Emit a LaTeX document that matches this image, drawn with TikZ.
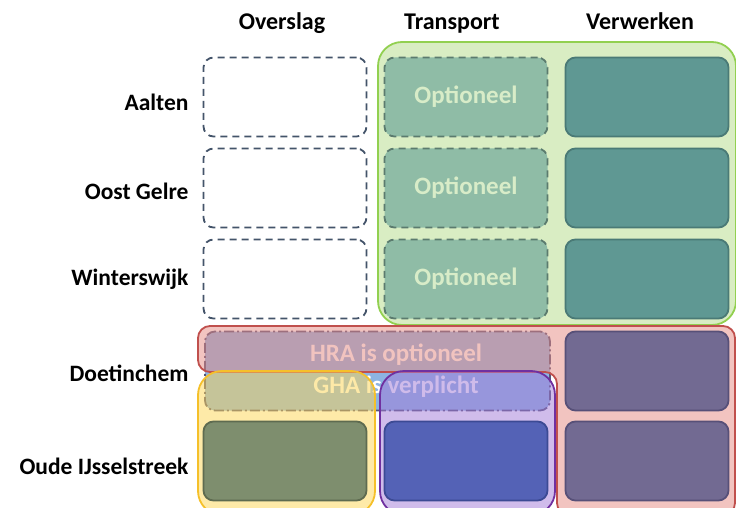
\documentclass[tikz,border=0pt]{standalone}
\usepackage{fontspec}
\setmainfont{Carlito}
\usepackage[]{xcolor}
\definecolor{dashblue}{HTML}{44546A}
\definecolor{optfill}{HTML}{8FBCA6}
\definecolor{optline}{HTML}{5B7B6E}
\definecolor{opttext}{HTML}{D8ECC8}
\definecolor{tealfill}{HTML}{5F9893}
\definecolor{tealline}{HTML}{4A7A76}
\definecolor{greenfill}{HTML}{D9EDC3}
\definecolor{greenline}{HTML}{92D050}
\definecolor{hrafill}{HTML}{8DB4E2}
\definecolor{hraline}{HTML}{55557A}
\definecolor{redfill}{HTML}{E58981}
\definecolor{redline}{HTML}{C0504D}
\definecolor{yelfill}{HTML}{FDD551}
\definecolor{yelline}{HTML}{F5C02A}
\definecolor{purfill}{HTML}{A179D7}
\definecolor{purline}{HTML}{7030A0}
\definecolor{olivefill}{HTML}{7E8E6E}
\definecolor{oliveline}{HTML}{5E6B50}
\definecolor{bluefill}{HTML}{5462B6}
\definecolor{blueline}{HTML}{3C4A94}
\definecolor{mauvefill}{HTML}{726A92}
\definecolor{mauveline}{HTML}{575078}

\begin{document}
\begin{tikzpicture}[
            x=1pt, y=-1pt,
            node distance=181pt,
            cell/.style={rectangle, rounded corners=10pt, minimum width=163pt, minimum height=79pt, line width=1.8pt},
            leeg/.style={cell, draw=dashblue, dash pattern=on 7pt off 5pt, fill=white},
            optie/.style={cell, draw=optline, dash pattern=on 7pt off 5pt, fill=optfill, text=opttext, font=\bfseries\fontsize{25}{30}\selectfont},
            verwerk/.style={cell, draw=tealline, fill=tealfill},
            kop/.style={font=\bfseries\fontsize{24}{28}\selectfont, anchor=base},
            rij/.style={font=\bfseries\fontsize{23.5}{28}\selectfont, anchor=east},
            groep/.style={rounded corners=24pt, line width=1.8pt}
        ]
            \useasboundingbox (0,0) rectangle (736,508);

            % kolommen
            \node[kop] (overslag) at (282,30) {Overslag};
            \node[kop] (transport) at (452,30) {Transport};
            \node[kop] (verwerken) at (640,30) {Verwerken};

            % gemeenten
            \node[rij] (aalten) at (192,102) {Aalten};
            \node[rij] (oostgelre) at (192,191) {Oost Gelre};
            \node[rij] (winterswijk) at (192,279) {Winterswijk};
            \node[rij] (doetinchem) at (192,373) {Doetinchem};
            \node[rij] (oude) at (192,466) {Oude IJsselstreek};

            % groen blok
            \fill[groep, fill=greenfill] (378,42) rectangle (736,325);

            \node[leeg] (a1) at (285,97) {};
            \node[optie, right of=a1] (a2) {Optioneel};
            \node[verwerk, right of=a2] (a3) {};
            \node[leeg] (b1) at (285,188) {};
            \node[optie, right of=b1] (b2) {Optioneel};
            \node[verwerk, right of=b2] (b3) {};
            \node[leeg] (c1) at (285,279) {};
            \node[optie, right of=c1] (c2) {Optioneel};
            \node[verwerk, right of=c2] (c3) {};

            \draw[groep, draw=greenline] (378,42) rectangle (736,325);

            % HRA / GHA
            \node[rectangle, rounded corners=10pt, minimum width=345pt, minimum height=79pt, line width=1.8pt,
                  draw=hraline, dash pattern=on 10pt off 3pt on 2pt off 3pt, fill=hrafill] (hra) at (377.5,371) {};
            \node[text=white, font=\bfseries\fontsize{25}{32}\selectfont, align=center] (hratxt) at (396,371) {HRA is optioneel\\GHA is verplicht};

            \draw[groep, rounded corners=12pt, draw=redline, fill=redfill, fill opacity=0.5]
                (198,326) -- (735,326) -- (735,515) -- (557,515) -- (557,372) -- (198,372) -- cycle;
            \draw[groep, draw=yelline, fill=yelfill, fill opacity=0.5] (198,371) rectangle (375,515);
            \draw[groep, draw=purline, fill=purfill, fill opacity=0.5] (380,371) rectangle (555,515);

            \node[cell, draw=oliveline, fill=olivefill] (e1) at (285,461) {};
            \node[cell, draw=blueline, fill=bluefill, right of=e1] (e2) {};
            \node[cell, draw=mauveline, fill=mauvefill, right of=e2] (e3) {};
            \node[cell, draw=mauveline, fill=mauvefill] (d3) at (647,371) {};
        \end{tikzpicture}
\end{document}
